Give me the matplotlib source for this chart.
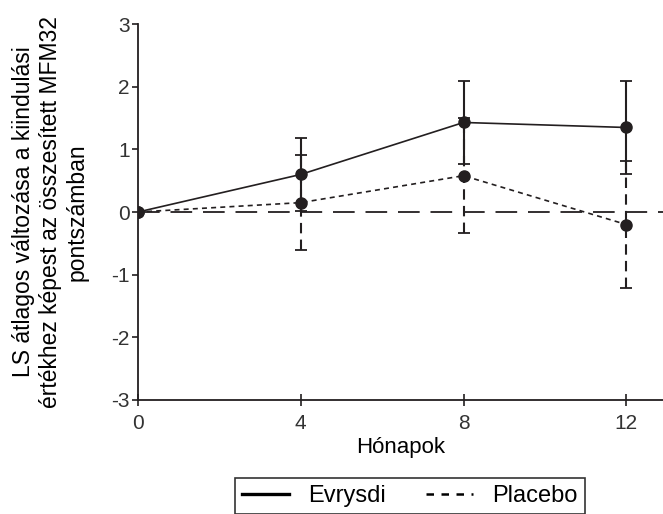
import numpy as np
import matplotlib
matplotlib.use("Agg")
import matplotlib.pyplot as plt
from matplotlib.lines import Line2D

plt.rcParams['font.family'] = ['Liberation Sans', 'DejaVu Sans']
plt.rcParams['axes.unicode_minus'] = False

# data
months = [0, 4, 8, 12]
evrysdi = [0, 0.60, 1.43, 1.35]
evrysdi_err = [0, 0.58, 0.67, 0.75]
placebo = [0, 0.15, 0.58, -0.20]
placebo_err = [0, 0.76, 0.92, 1.02]

ink = '#231f20'

fig = plt.figure(figsize=(6.63, 5.14), dpi=100)
ax = fig.add_axes([0.208, 0.222, 0.792, 0.731])

# zero reference line
ax.axhline(0, color=ink, lw=1.3, dashes=(12, 6), zorder=1)

eb1 = ax.errorbar(months, evrysdi, yerr=evrysdi_err, color=ink, lw=1.2,
                  marker='o', ms=8, capsize=4, capthick=1.3, elinewidth=1.5, zorder=3)
eb2 = ax.errorbar(months, placebo, yerr=placebo_err, color=ink, lw=1.2,
                  marker='o', ms=8, capsize=4, capthick=1.3, elinewidth=1.5, zorder=3)
eb2[0].set_dashes((3, 2.5))
for c in eb2[2]:
    c.set_linestyle((0, (5, 3)))

ax.set_xlim(0, 12.9)
ax.set_ylim(-3, 3)
ax.set_xticks(months)
ax.set_yticks(range(-3, 4))
ax.spines['top'].set_visible(False)
ax.spines['right'].set_visible(False)
for s in ['left', 'bottom']:
    ax.spines[s].set_color(ink)
    ax.spines[s].set_linewidth(1.3)
ax.tick_params(axis='x', direction='inout', length=8, width=1.2, colors=ink, labelsize=15, pad=6)
ax.tick_params(axis='y', direction='out', length=4, width=1.2, colors=ink, labelsize=15, pad=2)
for lab in ax.get_xticklabels() + ax.get_yticklabels():
    lab.set_color('#333333')

ax.set_xlabel('Hónapok', fontsize=16, color='black', labelpad=3)
ax.set_ylabel('LS átlagos változása a kiindulási\nértékhez képest az összesített MFM32\npontszámban',
              fontsize=16.5, color='black', labelpad=16, linespacing=1.22, ha='center')

handles = [Line2D([], [], color='black', lw=2.4),
           Line2D([], [], color='black', lw=1.8, dashes=(3, 3))]
leg = fig.legend(handles, ['Evrysdi', 'Placebo'], loc='upper center',
                 bbox_to_anchor=(0.618, 0.070), ncol=2, fontsize=17,
                 frameon=True, fancybox=False, edgecolor='black',
                 handlelength=2.0, columnspacing=1.7, borderpad=0.3,
                 borderaxespad=0)
leg.get_frame().set_linewidth(1.2)

fig.savefig('out.png', dpi=100)
